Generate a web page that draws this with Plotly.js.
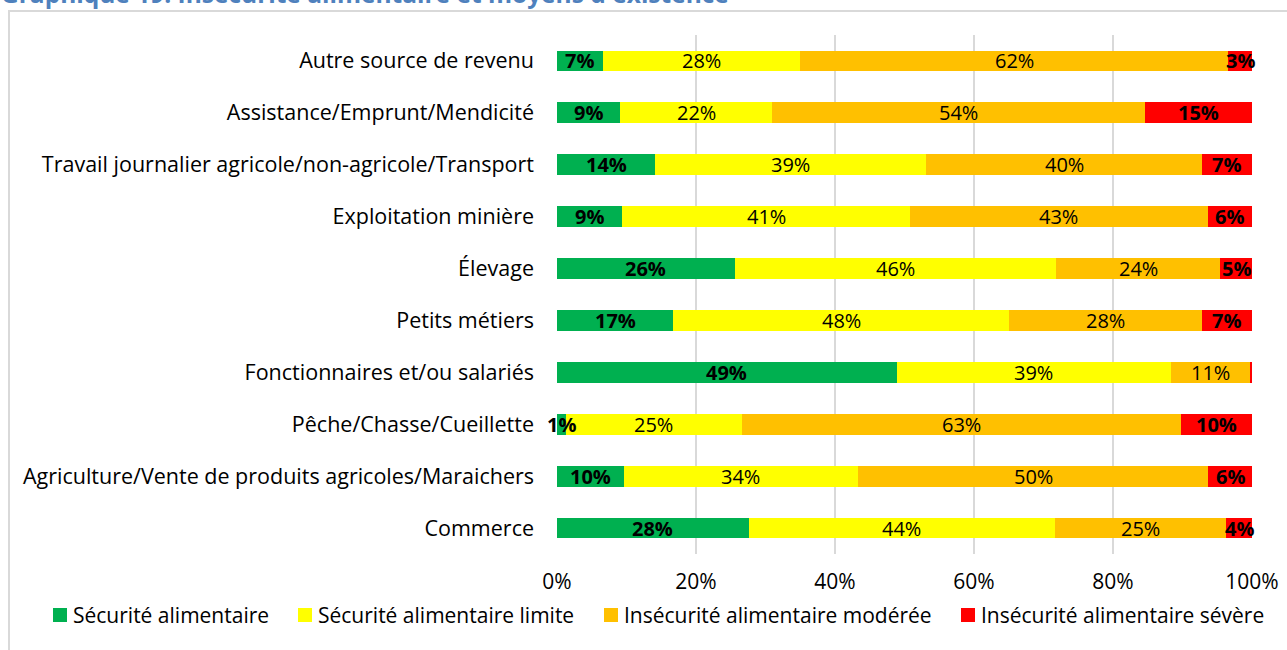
<!DOCTYPE html>
<html>
<head>
<meta charset="utf-8">
<script src="https://cdn.plot.ly/plotly-3.0.1.min.js"></script>
<style>
html,body{margin:0;padding:0;background:#fff;}
#wrap{position:relative;width:1287px;height:650px;overflow:hidden;}
#frame{position:absolute;left:8px;top:10px;width:1300px;height:700px;border-left:2px solid #d9d9d9;border-top:2px solid #d9d9d9;}
#chart{position:absolute;left:0;top:0;width:1287px;height:650px;}
</style>
</head>
<body>
<div id="wrap"><div id="frame"></div><div id="chart"></div></div>
<script>
const categories = [
  "Autre source de revenu",
  "Assistance/Emprunt/Mendicité",
  "Travail journalier agricole/non-agricole/Transport",
  "Exploitation minière",
  "Élevage",
  "Petits métiers",
  "Fonctionnaires et/ou salariés",
  "Pêche/Chasse/Cueillette",
  "Agriculture/Vente de produits agricoles/Maraichers",
  "Commerce"
];
const securite        = [6.6, 9.1, 14.1, 9.4, 25.6, 16.7, 48.9, 1.3, 9.6, 27.6];
const securiteLimite  = [28.4, 21.8, 39.0, 41.4, 46.2, 48.4, 39.4, 25.3, 33.7, 44.0];
const insecModeree    = [61.6, 53.7, 39.7, 42.8, 23.6, 27.7, 11.4, 63.2, 50.4, 24.7];
const insecSevere     = [3.4, 15.4, 7.2, 6.4, 4.6, 7.2, 0.3, 10.2, 6.3, 3.7];
const seriesNames = ["Sécurité alimentaire", "Sécurité alimentaire limite", "Insécurité alimentaire modérée", "Insécurité alimentaire sévère"];
const tickVals = [0, 20, 40, 60, 80, 100];
const tickLabels = ["0%", "20%", "40%", "60%", "80%", "100%"];
const titleText = "Graphique 19: Insécurité alimentaire et moyens d'existence";

const colors = ["#00B050", "#FFFF00", "#FFC000", "#FF0000"];
const bold = [true, false, false, true];
const FONT = "'Open Sans', sans-serif";

// plot-area geometry (pixels) used to place the legend/title in paper coords
const M = {l: 557, r: 35, t: 35, b: 96};
const PW = 1287 - M.l - M.r, PH = 650 - M.t - M.b;
const px2x = p => (p - M.l) / PW;
const px2y = p => (650 - M.b - p) / PH;

const allSeries = [securite, securiteLimite, insecModeree, insecSevere];
const traces = allSeries.map((vals, i) => ({
  type: "bar",
  orientation: "h",
  name: seriesNames[i],
  y: categories,
  x: vals,
  marker: {color: colors[i], line: {width: 0}},
  hoverinfo: "x+name",
  showlegend: false
}));

// value labels centred on each segment, computed from the data
const annotations = [];
categories.forEach((cat, r) => {
  let cum = 0;
  allSeries.forEach((vals, i) => {
    const v = vals[r];
    const mid = cum + v / 2;
    cum += v;
    if (v < 1) return;
    const t = Math.round(v) + "%";
    annotations.push({
      x: mid, y: cat, xref: "x", yref: "y",
      text: bold[i] ? "<b>" + t + "</b>" : t,
      showarrow: false,
      xanchor: "center", yanchor: "middle",
      font: {family: FONT, size: 20, color: "#000"}
    });
  });
});

// title (partly cut off at the top, as in the reference)
annotations.push({
  xref: "paper", yref: "paper",
  x: px2x(-1), xanchor: "left",
  y: px2y(-6), yanchor: "middle",
  showarrow: false,
  text: "<b>" + titleText + "</b>",
  font: {family: FONT, size: 24.5, color: "#4F81BD"}
});

// legend drawn by hand in a single row
const legendSquareX = [53, 298, 604, 961];
const legendY = 615;
const shapes = [];
seriesNames.forEach((name, i) => {
  const x0 = legendSquareX[i];
  shapes.push({
    type: "rect", xref: "paper", yref: "paper",
    x0: px2x(x0), x1: px2x(x0 + 14),
    y0: px2y(legendY - 7), y1: px2y(legendY + 7),
    fillcolor: colors[i], line: {width: 0}
  });
  annotations.push({
    xref: "paper", yref: "paper",
    x: px2x(x0 + 18), xanchor: "left",
    y: px2y(legendY), yanchor: "middle",
    showarrow: false,
    text: name,
    font: {family: FONT, size: 21, color: "#000"}
  });
});

const layout = {
  width: 1287,
  height: 650,
  paper_bgcolor: "rgba(0,0,0,0)",
  plot_bgcolor: "rgba(0,0,0,0)",
  barmode: "stack",
  bargap: 0.6,
  margin: M,
  font: {family: FONT, size: 21, color: "#000"},
  showlegend: false,
  xaxis: {
    range: [0, 100],
    tickvals: tickVals,
    ticktext: tickLabels,
    showgrid: true,
    gridcolor: "#d9d9d9",
    gridwidth: 2,
    zeroline: false,
    showline: false,
    ticks: "",
    ticklen: 0,
    ticklabelstandoff: 13,
    tickfont: {family: FONT, size: 21, color: "#000"},
    fixedrange: true
  },
  yaxis: {
    autorange: "reversed",
    showgrid: false,
    zeroline: false,
    showline: false,
    ticks: "",
    ticklabelstandoff: 22,
    tickfont: {family: FONT, size: 21.5, color: "#000"},
    fixedrange: true
  },
  shapes: shapes,
  annotations: annotations
};

Plotly.newPlot("chart", traces, layout, {displayModeBar: false, staticPlot: true});
</script>
</body>
</html>
